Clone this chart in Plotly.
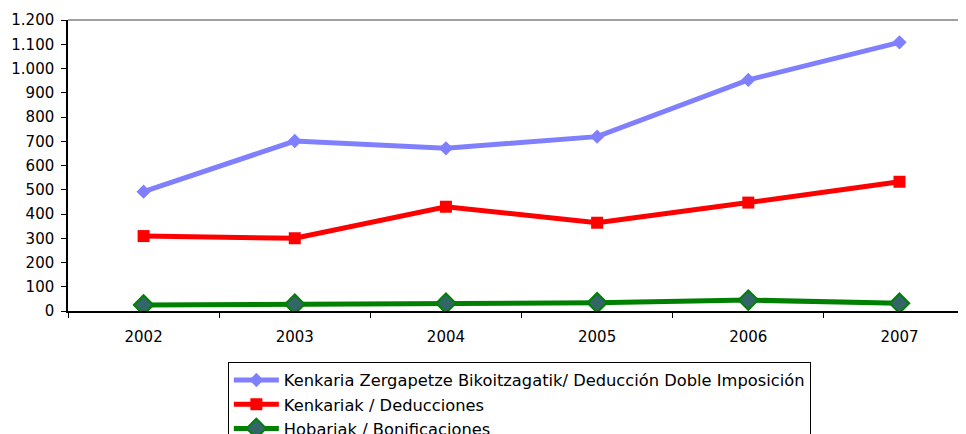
import plotly.graph_objects as go

years = ["2002", "2003", "2004", "2005", "2006", "2007"]
doble_imposicion = [492, 701, 671, 719, 953, 1108]
deducciones = [309, 300, 430, 364, 447, 533]
bonificaciones = [25, 28, 32, 34, 45, 32]

names = [
    "Kenkaria Zergapetze Bikoitzagatik/ Deducción Doble Imposición",
    "Kenkariak / Deducciones",
    "Hobariak / Bonificaciones",
]

FONT = "DejaVu Sans"

fig = go.Figure()
fig.add_trace(go.Scatter(
    x=years, y=doble_imposicion, name=names[0], mode="lines+markers",
    line=dict(color="#8080FF", width=5),
    marker=dict(symbol="diamond", size=11, color="#8080FF"),
))
fig.add_trace(go.Scatter(
    x=years, y=deducciones, name=names[1], mode="lines+markers",
    line=dict(color="#FF0000", width=5),
    marker=dict(symbol="square", size=12, color="#FF0000"),
))
fig.add_trace(go.Scatter(
    x=years, y=bonificaciones, name=names[2], mode="lines+markers",
    line=dict(color="#008000", width=5),
    marker=dict(symbol="diamond", size=15, color="#336666",
                line=dict(color="#008000", width=2)),
))

# page body has an 8px margin, so the figure is drawn at (8, 8)
fig.update_layout(
    width=958, height=426,
    margin=dict(l=60, r=0, t=12, b=123, autoexpand=False),
    paper_bgcolor="white", plot_bgcolor="white",
    separators=",.",
    font=dict(family=FONT, size=15, color="black"),
    showlegend=True,
    legend=dict(
        x=0.178, xanchor="left", y=-0.175, yanchor="top",
        bordercolor="black", borderwidth=1, bgcolor="white",
        font=dict(family=FONT, size=16.3, color="black"),
        tracegroupgap=0, itemwidth=45,
    ),
)
fig.update_xaxes(
    type="category", range=[-0.5, 5.44], automargin=False,
    showline=True, linecolor="black", linewidth=1.5,
    ticks="outside", ticklen=5, tickcolor="black", tickson="boundaries",
    showgrid=False, zeroline=False, ticklabelstandoff=11,
)
fig.update_yaxes(
    range=[0, 1200], dtick=100, tickformat=",d", automargin=False,
    showline=True, linecolor="black", linewidth=1.5,
    ticks="outside", ticklen=5, tickcolor="black",
    showgrid=False, zeroline=False, ticklabelstandoff=4,
)
fig.add_shape(type="line", xref="paper", yref="paper", x0=0, x1=1, y0=1, y1=1,
              line=dict(color="#808080", width=1.5))

fig.write_html("out.html")
